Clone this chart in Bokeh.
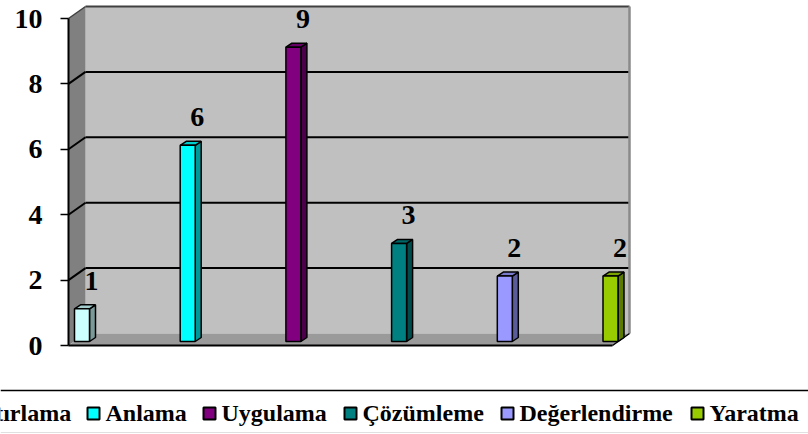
from bokeh.plotting import figure
from bokeh.models import Range1d, LinearAxis, FixedTicker
from bokeh.core.properties import value
from bokeh.embed import file_html
from bokeh.resources import INLINE

# ---- data ----
categories = ["Hatırlama", "Anlama", "Uygulama", "Çözümleme", "Değerlendirme", "Yaratma"]
values = [1, 6, 9, 3, 2, 2]
y_ticks = [0, 2, 4, 6, 8, 10]

# ---- styles / layout ----
front_colors = ["#CCFFFF", "#00FFFF", "#800080", "#008080", "#9999FF", "#99CC00"]
legend_square_left = [-54, 87, 203, 344, 501, 691]   # screen px

W, H = 808, 434
PX_X = 105.7   # px per category step
PX_Y = 32.7    # px per value unit
X0 = 81.5      # screen x of first category (front face centre)
Y0 = 345.0     # screen y of value 0 on the front plane


def dx(px):
    return px / PX_X


def dy(px):
    return px / PX_Y


def sx(x):
    return (x - X0) / PX_X


def sy(y):
    return (Y0 - y) / PX_Y


def shade(c, f):
    c = c.lstrip("#")
    r, g, b = (int(c[k:k + 2], 16) for k in (0, 2, 4))
    return "#%02x%02x%02x" % (int(r * f), int(g * f), int(b * f))


FONT = value("Liberation Serif")

p = figure(width=W, height=H,
           x_range=Range1d(sx(0), sx(W)), y_range=Range1d(sy(H), sy(0)),
           output_backend="svg", toolbar_location=None,
           x_axis_location=None, y_axis_location=None,
           min_border=0, outline_line_color=None,
           background_fill_color="white", border_fill_color="white")
p.grid.grid_line_color = None

ymax = max(y_ticks)
back = dy(12)
xl_front, xl_back, xr_back, xr_front = sx(68), sx(85), sx(629), sx(612)

# back wall
p.quad(left=[xl_back], right=[xr_back], bottom=[back], top=[ymax + back],
       fill_color="#C0C0C0", line_color=None)
# left wall
p.patch([xl_front, xl_front, xl_back, xl_back], [0, ymax, ymax + back, back],
        fill_color="#808080", line_color=None)
# floor
p.patch([xl_front, xl_back, xr_back, xr_front], [0, back, back, 0],
        fill_color="#9a9a9a", line_color=None)

# gridlines (back wall + left wall diagonals)
grid_vals = [v for v in y_ticks if 0 < v < ymax]
p.segment(x0=[xl_back] * len(grid_vals), y0=[v + back for v in grid_vals],
          x1=[xr_back] * len(grid_vals), y1=[v + back for v in grid_vals],
          line_color="black", line_width=2)
p.segment(x0=[xl_front] * len(grid_vals), y0=grid_vals,
          x1=[xl_back] * len(grid_vals), y1=[v + back for v in grid_vals],
          line_color="black", line_width=2)

# wall borders
p.segment(x0=[xl_back], y0=[ymax + back], x1=[xr_back], y1=[ymax + back],
          line_color="#404040", line_width=2)
p.segment(x0=[xl_front], y0=[ymax], x1=[xl_back], y1=[ymax + back],
          line_color="#404040", line_width=1.5)
p.segment(x0=[xr_back], y0=[back], x1=[xr_back], y1=[ymax + back],
          line_color="#8a8a8a", line_width=2.5)
p.segment(x0=[xl_front], y0=[0], x1=[xl_front], y1=[ymax],
          line_color="black", line_width=2)
p.segment(x0=[xl_front], y0=[0], x1=[xr_front], y1=[0],
          line_color="black", line_width=2)
p.segment(x0=[xr_front], y0=[0], x1=[xr_back], y1=[back],
          line_color="black", line_width=1.5)

# bars (3D look)
idx = list(range(len(values)))
hw, ddx, ddy = dx(7.5), dx(6), dy(4)
base = dy(4)
tops = [v + base for v in values]
side_xs = [[i + hw, i + hw + ddx, i + hw + ddx, i + hw] for i in idx]
side_ys = [[base, base + ddy, t + ddy, t] for t in tops]
top_xs = [[i - hw, i - hw + ddx, i + hw + ddx, i + hw] for i in idx]
top_ys = [[t, t + ddy, t + ddy, t] for t in tops]

p.patches(side_xs, side_ys, fill_color=[shade(c, 0.6) for c in front_colors],
          line_color="black", line_width=1.5)
p.patches(top_xs, top_ys, fill_color=[shade(c, 0.8) for c in front_colors],
          line_color="black", line_width=1.5)
p.quad(left=[i - hw for i in idx], right=[i + hw for i in idx],
       bottom=[base] * len(idx), top=tops,
       fill_color=front_colors, line_color="black", line_width=1.5)

# data labels
p.text(x=[i + dx(9.5) for i in idx], y=[v + dy(32) for v in values],
       text=[str(v) for v in values], text_align="center", text_baseline="alphabetic",
       text_font=FONT, text_font_style="bold", text_font_size="28px", text_color="black")

# y axis on the front-left edge
ax = LinearAxis(fixed_location=xl_front, ticker=FixedTicker(ticks=y_ticks),
                axis_line_color=None, major_tick_out=8, major_tick_in=0,
                major_tick_line_color="black", major_tick_line_width=1.5,
                minor_tick_line_color=None, major_label_standoff=18,
                major_label_text_font="Liberation Serif",
                major_label_text_font_style="bold",
                major_label_text_font_size="28px",
                major_label_text_color="black")
p.add_layout(ax, "left")

# legend
p.segment(x0=[sx(0)], y0=[sy(390)], x1=[sx(W)], y1=[sy(390)],
          line_color="black", line_width=1.5)
p.segment(x0=[sx(0)], y0=[sy(432)], x1=[sx(W)], y1=[sy(432)],
          line_color="#e0e0e0", line_width=1)
p.rect(x=[sx(l + 6) for l in legend_square_left], y=[sy(413)] * len(categories),
       width=12, height=12, width_units="screen", height_units="screen",
       fill_color=front_colors, line_color="black", line_width=2)
p.text(x=[sx(l + 18) for l in legend_square_left], y=[sy(412)] * len(categories),
       text=categories, text_align="left", text_baseline="alphabetic",
       text_font=FONT, text_font_style="bold", text_font_size="24px", text_color="black")

open("out.html", "w").write(file_html(p, INLINE))
